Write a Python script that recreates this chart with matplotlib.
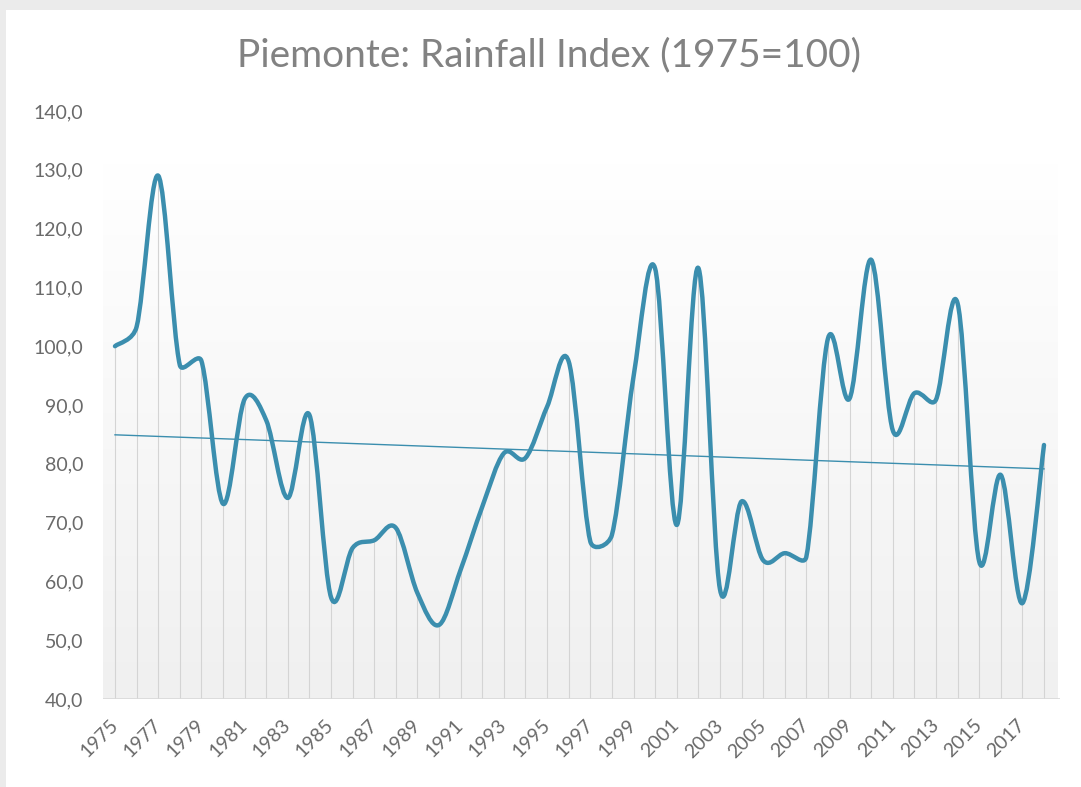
import numpy as np
import matplotlib
matplotlib.use("Agg")
import matplotlib.pyplot as plt
from matplotlib.path import Path
from matplotlib.patches import PathPatch, Rectangle

# data
years = np.arange(1975, 2019)
rain_index = [100.0, 103.3, 129.0, 96.8, 97.5, 73.2, 91.0, 87.4, 74.2, 88.3,
              57.3, 65.7, 67.0, 69.1, 58.0, 52.6, 62.0, 72.7, 81.8, 81.0,
              89.7, 97.4, 66.8, 67.9, 94.8, 113.2, 69.6, 113.3, 58.7, 73.6,
              63.6, 64.8, 64.2, 101.3, 91.1, 114.7, 85.7, 92.0, 90.9, 107.3,
              63.4, 78.1, 56.3, 83.2]
ytick_vals = np.arange(40, 141, 10)
xtick_years = np.arange(1975, 2018, 2)

line_col = "#3b8eae"
text_col = "#6a6a6a"
plt.rcParams["font.family"] = ["Lato", "DejaVu Sans"]

W, H = 1081, 787
fig = plt.figure(figsize=(W / 100, H / 100), dpi=100)
fig.patch.set_facecolor("#ebebeb")
fig.patches.append(Rectangle((6 / W, 0), 1, 1 - 10 / H, transform=fig.transFigure,
                             facecolor="white", edgecolor="none", zorder=-5))

# axes box in pixels
left, right, bottom, top = 103, 1060, 699, 111
ax = fig.add_axes([left / W, 1 - bottom / H, (right - left) / W, (bottom - top) / H])
ax.set_facecolor("none")
ax.set_zorder(2)
px_per_year = (1044 - 115) / 43
px_per_unit = (bottom - top) / 100
x0 = 1975 - (115 - left) / px_per_year
x1 = 2018 + (right - 1044) / px_per_year
ax.set_xlim(x0, x1)

# soft gradient in plot area
grad = np.linspace(0, 1, 256).reshape(-1, 1)
ax.imshow(grad, extent=[x0, x1 - 0.1, 40, 131], aspect="auto",
          cmap=matplotlib.colors.LinearSegmentedColormap.from_list("g", ["#f0f0f0", "#ffffff"]),
          vmin=0, vmax=1, origin="lower", zorder=0)
ax.set_xlim(x0, x1)
ax.set_ylim(40, 140)

# drop lines
ax.vlines(years, 40, rain_index, color="#d4d4d4", lw=0.8, zorder=1)
ax.axhline(40, color="#d9d9d9", lw=1.2, zorder=1)

# smoothed line, excel-like bezier (handles limited to half the neighbouring segment)
pts = np.column_stack([years * px_per_year, np.array(rain_index) * px_per_unit])
n = len(pts)
verts = [pts[0]]
codes = [Path.MOVETO]
def tangent(i):
    a = pts[max(i - 1, 0)]
    b = pts[min(i + 1, n - 1)]
    t = b - a
    return t / (np.linalg.norm(t) + 1e-9), np.linalg.norm(t) / 6
for i in range(n - 1):
    p1, p2 = pts[i], pts[i + 1]
    seg = np.linalg.norm(p2 - p1)
    u1, l1 = tangent(i)
    u2, l2 = tangent(i + 1)
    c1 = p1 + u1 * min(l1, seg / 2)
    c2 = p2 - u2 * min(l2, seg / 2)
    verts += [c1, c2, p2]
    codes += [Path.CURVE4] * 3
verts = np.array(verts) / [px_per_year, px_per_unit]
ax.add_patch(PathPatch(Path(verts, codes), facecolor="none", edgecolor=line_col,
                       lw=3.2, capstyle="round", joinstyle="round", zorder=3))

# linear trend
coef = np.polyfit(years, rain_index, 1)
ax.plot(years, np.polyval(coef, years), color=line_col, lw=1.0, zorder=2)

for s in ax.spines.values():
    s.set_visible(False)
ax.set_yticks(ytick_vals)
ax.set_yticklabels([f"{v:.1f}".replace(".", ",") for v in ytick_vals])
ax.set_xticks(xtick_years)
ax.set_xticklabels([str(y) for y in xtick_years], rotation=45, ha="right",
                   rotation_mode="anchor", va="center")
ax.tick_params(axis="y", length=0, pad=14, labelsize=14, labelcolor=text_col)
ax.tick_params(axis="x", length=0, pad=17, labelsize=14, labelcolor=text_col)

fig.text(549 / W, 1 - 55 / H, "Piemonte: Rainfall Index (1975=100)", ha="center",
         va="center", fontsize=28, color="#828282")

fig.savefig("out.png", dpi=100)
